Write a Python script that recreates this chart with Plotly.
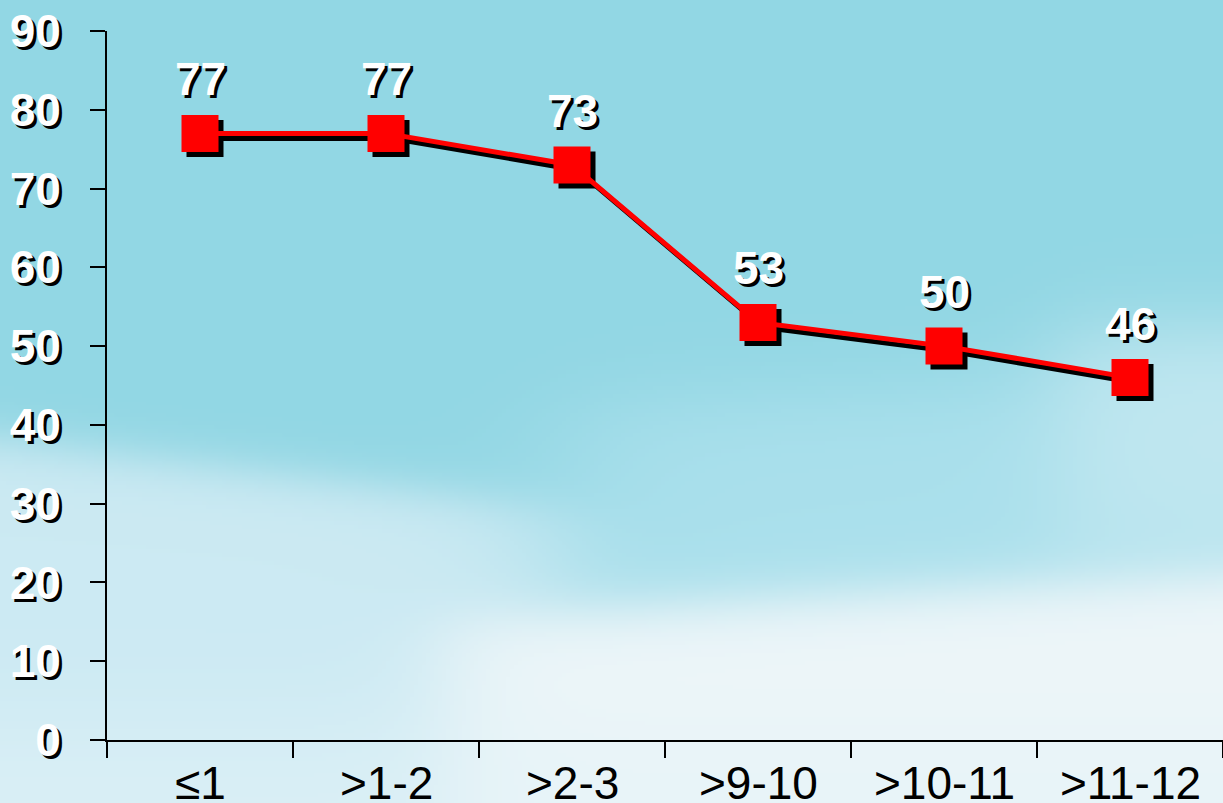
import base64
import struct
import zlib

import numpy as np
import plotly.graph_objects as go

# ---- data -------------------------------------------------------------
categories = ["≤1", ">1-2", ">2-3", ">9-10", ">10-11", ">11-12"]
values = [77, 77, 73, 53, 50, 46]
y_ticks = [0, 10, 20, 30, 40, 50, 60, 70, 80, 90]

# ---- geometry (pixels) ------------------------------------------------
FIG_W, FIG_H = 1223, 803
M_L, M_R, M_T, M_B = 104, 0, 27, 63
PW, PH = FIG_W - M_L - M_R, FIG_H - M_T - M_B
HL_DX, HL_DY = 3, 4          # offset of the white highlight axes
SHADOW = 5                   # drop-shadow offset of the series

X_RANGE = [-0.5, len(categories) - 0.5]
Y_RANGE = [0, 90]
px_per_x = (PW - HL_DX) / (X_RANGE[1] - X_RANGE[0])
px_per_y = (PH - HL_DY) / (Y_RANGE[1] - Y_RANGE[0])

FONT = "Liberation Sans, Arial, sans-serif"
TEXT_SHADOW = "3px 3px 0px #000000"


# ---- sky background image ---------------------------------------------
def png_data_uri(rgb):
    h, w, _ = rgb.shape
    raw = b"".join(b"\x00" + rgb[r].tobytes() for r in range(h))

    def chunk(tag, data):
        return (struct.pack(">I", len(data)) + tag + data
                + struct.pack(">I", zlib.crc32(tag + data) & 0xFFFFFFFF))

    png = (b"\x89PNG\r\n\x1a\n"
           + chunk(b"IHDR", struct.pack(">IIBBBBB", w, h, 8, 2, 0, 0, 0))
           + chunk(b"IDAT", zlib.compress(raw, 9))
           + chunk(b"IEND", b""))
    return "data:image/png;base64," + base64.b64encode(png).decode()


def sky_background():
    h, w = 201, 306
    ys, xs = np.mgrid[0:h, 0:w].astype(float)
    X = xs * (FIG_W - 1) / (w - 1)
    Y = ys * (FIG_H - 1) / (h - 1)

    def sig(z):
        return 1.0 / (1.0 + np.exp(-z))

    img = np.ones((h, w, 3)) * np.array([146, 215, 228], float)
    layers = [
        # pale cloud bank on the lower left
        (sig((Y - (440 + 0.12 * X)) / 14) * sig((640 - X) / 45), (204, 234, 243)),
        # softer blue haze in the middle right
        (sig((Y - (400 - 0.05 * (X - 600))) / 25) * sig((X - 560) / 45), (170, 224, 236)),
        # brighter patch on the far right
        (sig((Y - 330) / 25) * sig((560 - Y) / 30) * sig((X - 1060) / 30), (192, 231, 240)),
        # near-white clouds along the bottom right
        (sig((Y - (615 - 0.06 * (X - 500))) / 16) * sig((X - 440) / 30), (238, 246, 249)),
        # lightening toward the bottom edge
        (sig((Y - 720) / 35) * 0.6, (228, 243, 248)),
    ]
    for wgt, col in layers:
        wgt = wgt[..., None]
        img = img * (1 - wgt) + np.array(col, float) * wgt
    return png_data_uri(np.clip(img, 0, 255).astype(np.uint8))


# ---- figure -----------------------------------------------------------
x_idx = list(range(len(categories)))
dx = SHADOW / px_per_x
dy = SHADOW / px_per_y

fig = go.Figure()

# drop shadow of the series
fig.add_trace(go.Scatter(
    x=[i + dx for i in x_idx], y=[v - dy for v in values],
    mode="lines+markers",
    line=dict(color="#000000", width=5),
    marker=dict(symbol="square", size=37, color="#000000", line=dict(width=0)),
    hoverinfo="skip", showlegend=False, cliponaxis=False,
))
# the series itself
fig.add_trace(go.Scatter(
    x=x_idx, y=values,
    mode="lines+markers",
    line=dict(color="#ff0000", width=5),
    marker=dict(symbol="square", size=37, color="#ff0000", line=dict(width=0)),
    showlegend=False, cliponaxis=False,
))

# value labels above the markers
for i, v in zip(x_idx, values):
    fig.add_annotation(
        x=i, y=v, xref="x", yref="y", text=str(v), showarrow=False,
        yanchor="bottom", yshift=26,
        font=dict(family=FONT, size=46, color="#ffffff", weight="bold",
                  shadow=TEXT_SHADOW),
    )

# category labels, centred under each point
for i, c in zip(x_idx, categories):
    fig.add_annotation(
        x=i, y=0, xref="x", yref="paper", text=c, showarrow=False,
        yanchor="top", yshift=-15,
        font=dict(family=FONT, size=46, color="#000000"),
    )

boundaries = [b - 0.5 for b in range(len(categories) + 1)]

axis_common = dict(showgrid=False, zeroline=False, showline=True,
                   linewidth=2, ticks="outside", tickwidth=2)

fig.update_layout(
    width=FIG_W, height=FIG_H,
    margin=dict(l=M_L, r=M_R, t=M_T, b=M_B, pad=0),
    paper_bgcolor="#92d7e4", plot_bgcolor="rgba(0,0,0,0)",
    showlegend=False,
    images=[dict(
        source=sky_background(), xref="paper", yref="paper",
        x=-M_L / PW, y=1 + M_T / PH, sizex=FIG_W / PW, sizey=FIG_H / PH,
        xanchor="left", yanchor="top", sizing="stretch", layer="below",
    )],
    # black axes carrying the data
    xaxis=dict(**axis_common, domain=[HL_DX / PW, 1], range=X_RANGE,
               linecolor="#000000", tickcolor="#000000", ticklen=16,
               tickvals=boundaries, showticklabels=False, anchor="y"),
    yaxis=dict(**axis_common, domain=[0, 1 - HL_DY / PH], range=Y_RANGE,
               linecolor="#000000", tickcolor="#000000", ticklen=15,
               tickvals=y_ticks, ticklabelstandoff=20, anchor="x",
               tickfont=dict(family=FONT, size=46, color="#ffffff",
                             weight="bold", shadow=TEXT_SHADOW)),
    # white highlight axes, nudged up and to the left
    xaxis2=dict(**axis_common, domain=[0, 1 - HL_DX / PW], range=X_RANGE,
                linecolor="#ffffff", tickcolor="#ffffff", ticklen=16,
                tickvals=boundaries, showticklabels=False, anchor="y2"),
    yaxis2=dict(**axis_common, domain=[HL_DY / PH, 1], range=Y_RANGE,
                linecolor="#ffffff", tickcolor="#ffffff", ticklen=15,
                tickvals=y_ticks, showticklabels=False, anchor="x2"),
)

fig.write_html("out.html")
